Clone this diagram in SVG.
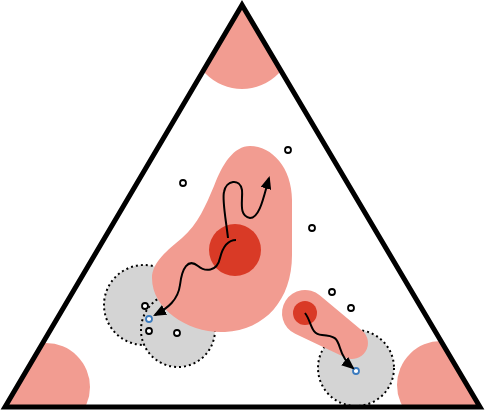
<svg xmlns="http://www.w3.org/2000/svg" width="486" height="412" viewBox="0 0 486 412">
<defs>
<style>
.corner{fill:#f29c91}
.blob{fill:#f29c91}
.core{fill:#d93a26}
.zone{fill:#d4d4d4;stroke:#000;stroke-width:2;stroke-dasharray:2,3}
.pt{fill:#fff;stroke:#000;stroke-width:1.8}
.bpt{fill:#fff;stroke:#3b7bbf;stroke-width:1.8}
.walk{fill:none;stroke:#000;stroke-width:2;marker-end:url(#ah)}
</style>
<marker id="ah" viewBox="0 0 12 10" refX="10" refY="5" markerWidth="13" markerHeight="11" markerUnits="userSpaceOnUse" orient="auto">
<path d="M0,0 L12,5 L0,10 Z" fill="#000"/>
</marker>
<clipPath id="tri"><polygon points="242,5 5,407 480,407"/></clipPath>
</defs>
<rect width="486" height="412" fill="#fff"/>
<g id="corners" clip-path="url(#tri)">
<circle class="corner" cx="242" cy="38" r="51"/>
<circle class="corner" cx="46" cy="387" r="44"/>
<circle class="corner" cx="441" cy="385" r="44"/>
</g>
<g id="zone1"><circle class="zone" cx="144" cy="305" r="40"/></g>
<g id="zone2"><circle class="zone" cx="178" cy="330" r="37"/></g>
<g id="zone3"><circle class="zone" cx="356" cy="368" r="38"/></g>
<g id="bigblob">
<path class="blob" d="M250,146 C272,146 292,168 292,200 L292,255 C292,300 265,330 225,332 C190,334 152,310 152,278 C152,262 168,250 182,238 C198,224 206,205 214,186 C222,164 234,146 250,146 Z"/>
<circle class="core" cx="235" cy="250" r="26"/>
</g>
<g id="smallblob">
<path class="blob" d="M319.7,295.3 L362.2,330.7 A16,16 0 0 1 345.2,357.5 L295.2,333.8 A23,23 0 1 1 319.7,295.3 Z"/>
<circle class="core" cx="305" cy="313" r="12"/>
</g>
<g id="points">
<circle class="pt" cx="183" cy="183" r="3"/>
<circle class="pt" cx="288" cy="150" r="3"/>
<circle class="pt" cx="312" cy="228" r="3"/>
<circle class="pt" cx="145" cy="306" r="3"/>
<circle class="pt" cx="149" cy="331" r="3"/>
<circle class="pt" cx="177" cy="333" r="3"/>
<circle class="pt" cx="332" cy="292" r="3"/>
<circle class="pt" cx="351" cy="308" r="3"/>
<circle class="bpt" cx="149" cy="319" r="3"/>
<circle class="bpt" cx="356" cy="371" r="3"/>
</g>
<g id="triangle"><polygon points="242,5 5,407 480,407" fill="none" stroke="#000" stroke-width="5" stroke-linejoin="miter"/></g>
<g id="connectors">
<path class="walk" d="M228,238 C226,220 222,200 224,192 C226,180 240,178 242,190 C243,200 238,216 250,218 C260,218 264,195 269,178"/>
<path class="walk" d="M236,240 C226,240 222,250 220,258 C217,272 205,272 198,266 C188,258 182,268 180,285 C178,300 168,308 155,315"/>
<path class="walk" d="M305,313 C312,322 310,334 322,335 C335,336 337,338 340,348 C343,358 347,363 353,368"/>
</g>
</svg>
